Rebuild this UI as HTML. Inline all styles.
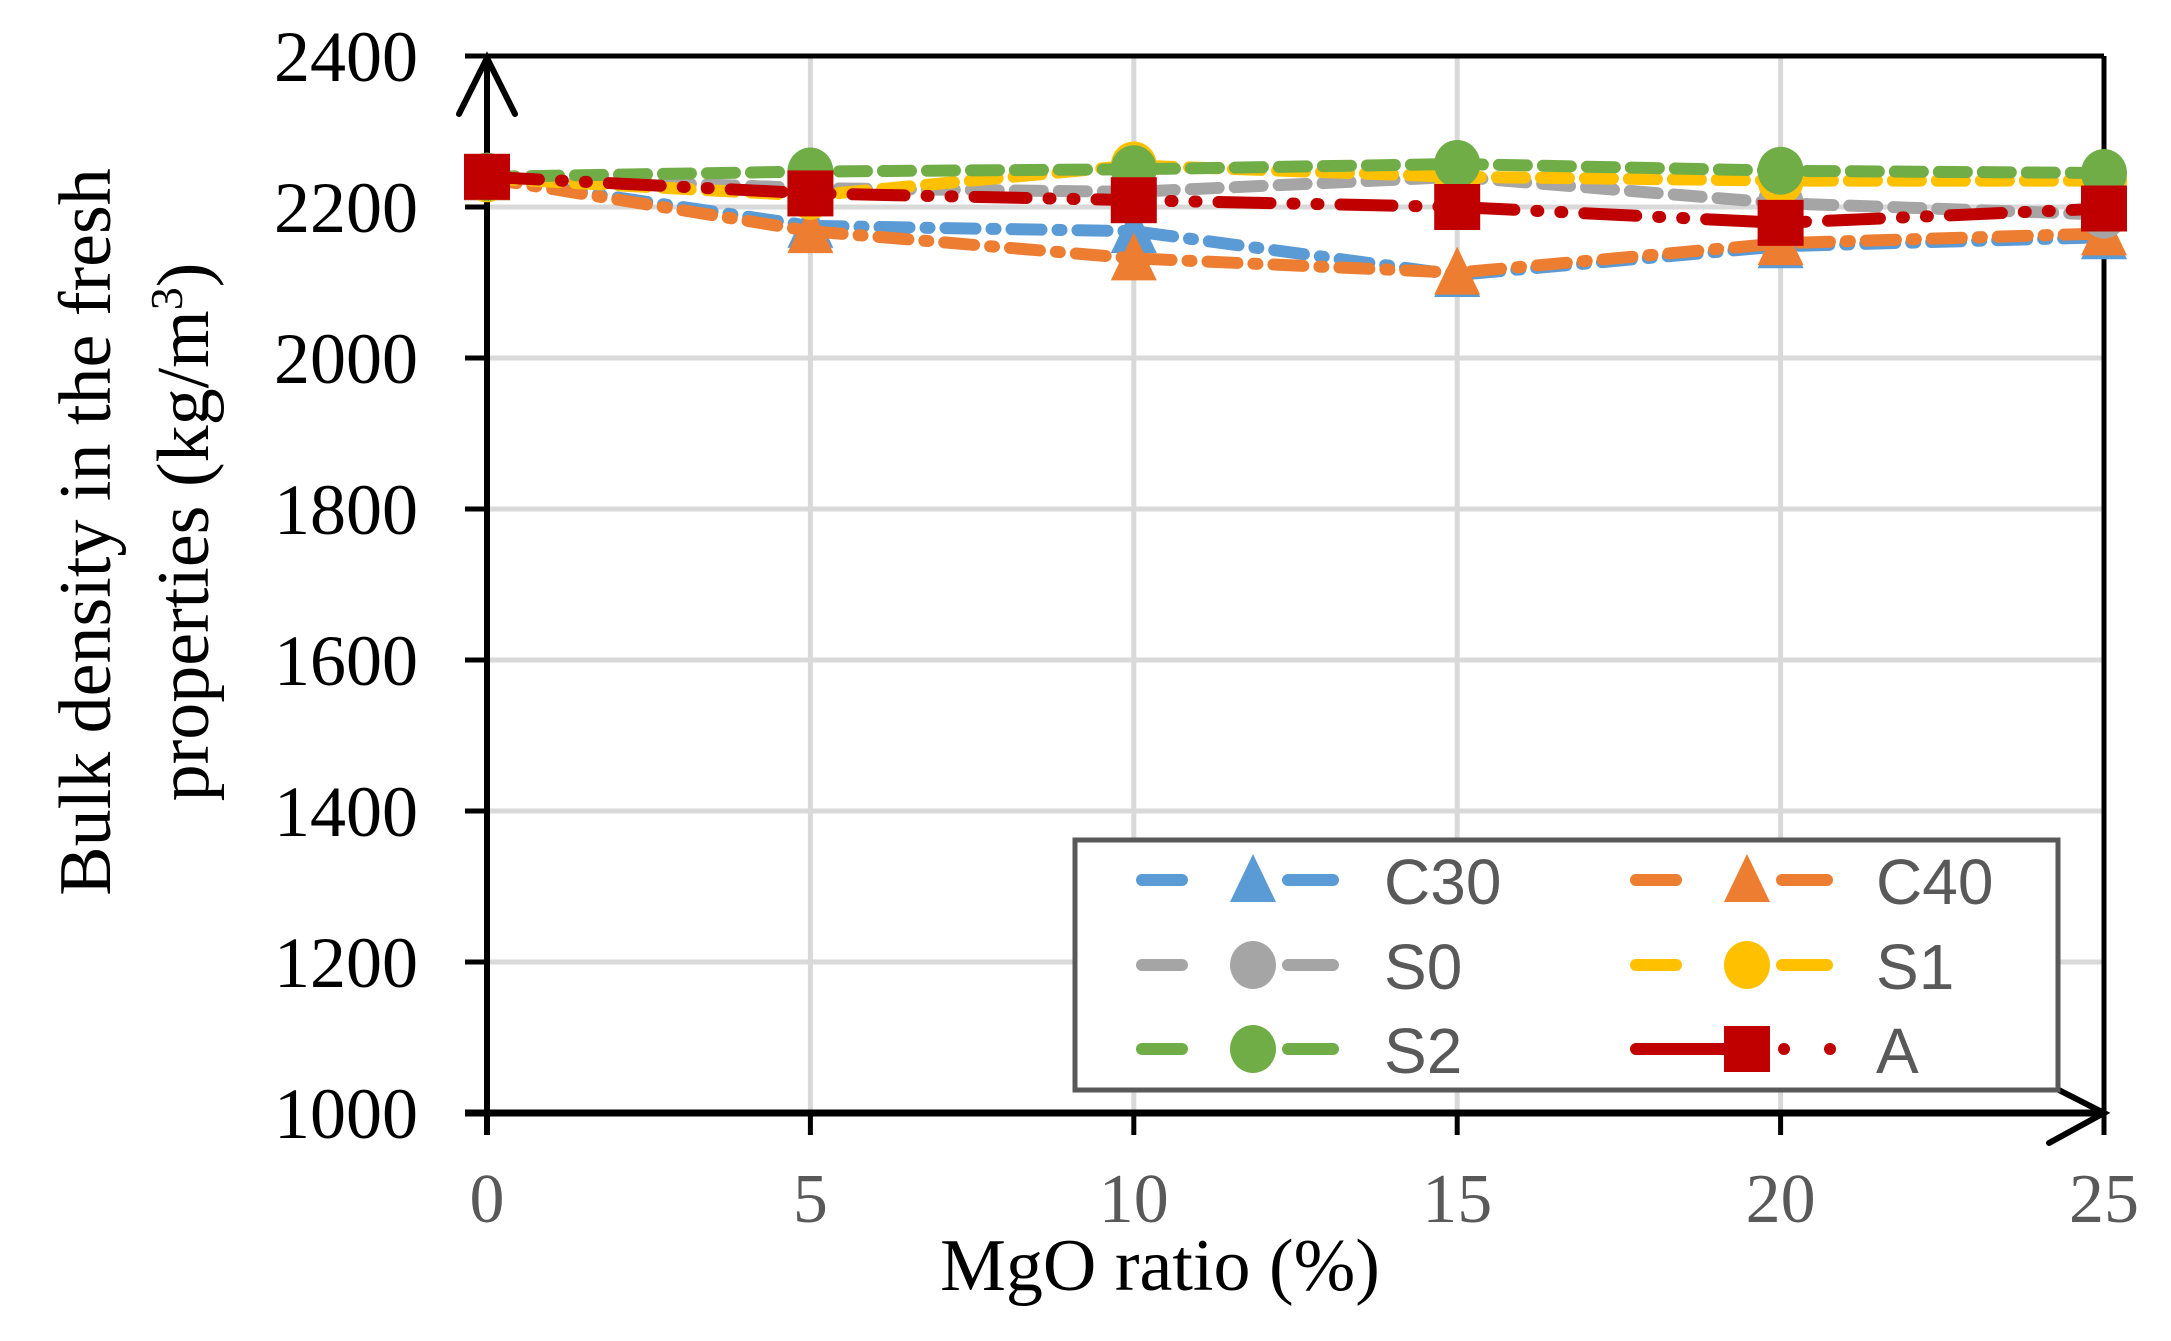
<!DOCTYPE html>
<html><head><meta charset="utf-8"><style>
html,body{margin:0;padding:0;background:#fff;}
svg{display:block;}
</style></head><body>
<svg id="chart" width="2171" height="1341" viewBox="0 0 2171 1341" xmlns="http://www.w3.org/2000/svg">
<g id="grid"></g>
<g id="axes"></g>
<g id="series"></g>
<g id="legend"></g>
<text x="1160" y="1290" text-anchor="middle" font-family="Liberation Serif, serif" font-size="74" fill="#000">MgO ratio (%)</text>
<text transform="translate(110,532) rotate(-90)" text-anchor="middle" font-family="Liberation Serif, serif" font-size="74" fill="#000">Bulk density in the fresh</text>
<text transform="translate(208,532) rotate(-90)" text-anchor="middle" font-family="Liberation Serif, serif" font-size="74" fill="#000">properties (kg/m<tspan font-size="46" dy="-26">3</tspan><tspan dy="26">)</tspan></text>
</svg>
<script>
const categories = [0, 5, 10, 15, 20, 25];
const seriesNames = ["C30", "C40", "S0", "S1", "S2", "A"];
const C30 = [2238, 2175, 2168, 2110, 2148, 2160];
const C40 = [2238, 2168, 2132, 2113, 2152, 2165];
const S0 = [2240, 2225, 2220, 2240, 2205, 2190];
const S1 = [2238, 2215, 2255, 2240, 2235, 2235];
const S2 = [2240, 2247, 2250, 2257, 2248, 2245];
const A = [2240, 2218, 2209, 2200, 2179, 2198];
const yTicks = [1000, 1200, 1400, 1600, 1800, 2000, 2200, 2400];
const xTicks = [0, 5, 10, 15, 20, 25];

const NS = "http://www.w3.org/2000/svg";
const X0 = 487, X1 = 2104, Y0 = 1113, Y1 = 56;
function xs(v){ return X0 + (v - 0) / 25 * (X1 - X0); }
function ys(v){ return Y0 - (v - 1000) / 1400 * (Y0 - Y1); }
function mk(tag, attrs, parent){ const e = document.createElementNS(NS, tag); for (const k in attrs) e.setAttribute(k, attrs[k]); parent.appendChild(e); return e; }

const grid = document.getElementById('grid');
const axes = document.getElementById('axes');
yTicks.forEach(t => {
  if (t === 1000 || t === 2400) return;
  const l = mk('line', {x1: X0, x2: X1, y1: ys(t), y2: ys(t), stroke: '#d9d9d9', 'stroke-width': 5}, grid);
  
  
});
xTicks.forEach(t => {
  if (t === 0 || t === 25) return;
  const l = mk('line', {x1: xs(t), x2: xs(t), y1: Y1, y2: Y0, stroke: '#d9d9d9', 'stroke-width': 5}, grid);
  
  
});
mk('line', {x1: X0 - 22, x2: X1, y1: Y1, y2: Y1, stroke: '#000', 'stroke-width': 5}, axes);
mk('line', {x1: X1, x2: X1, y1: Y1, y2: Y0 + 2, stroke: '#000', 'stroke-width': 5}, axes);
const ya = mk('line', {x1: X0, x2: X0, y1: Y1, y2: Y0 + 22, stroke: '#000', 'stroke-width': 6}, axes);


const xa = mk('line', {x1: X0 - 22, x2: X1, y1: Y0, y2: Y0, stroke: '#000', 'stroke-width': 7}, axes);


mk('polyline', {points: `${X0-28},${Y1+58} ${X0},${Y1+2} ${X0+28},${Y1+58}`, fill: 'none', stroke: '#000', 'stroke-width': 6, 'stroke-linecap': 'round'}, axes);
mk('polyline', {points: `${X1-55},${Y0-28} ${X1},${Y0} ${X1-55},${Y0+30}`, fill: 'none', stroke: '#000', 'stroke-width': 6, 'stroke-linecap': 'round'}, axes);
yTicks.forEach(t => {
  mk('line', {x1: X0 - 22, x2: X0, y1: ys(t), y2: ys(t), stroke: '#000', 'stroke-width': 5}, axes);
  const tx = mk('text', {x: 418, y: ys(t) + 25, 'text-anchor': 'end', 'font-family': 'Liberation Serif, serif', 'font-size': 72, fill: '#000'}, axes);
  tx.textContent = t;
  
  
});
xTicks.forEach(t => {
  mk('line', {x1: xs(t), x2: xs(t), y1: Y0, y2: Y0 + 22, stroke: '#000', 'stroke-width': 5}, axes);
  const tx = mk('text', {x: xs(t), y: 1222, 'text-anchor': 'middle', 'font-family': 'Liberation Serif, serif', 'font-size': 70, fill: '#595959'}, axes);
  tx.textContent = t;
  
  
});

const styles = {
  C30: {c: '#5b9bd5', dash: '30 16 4 16', m: 'tri'},
  C40: {c: '#ed7d31', dash: '30 16 4 16', m: 'tri'},
  S0: {c: '#a5a5a5', dash: '28 16', m: 'circ'},
  S1: {c: '#ffc000', dash: '28 16', m: 'circ'},
  S2: {c: '#70ad47', dash: '28 16', m: 'circ'},
  A: {c: '#c00000', dash: '52 22 2 22 2 22', m: 'sq'}
};
const dataMap = {C30, C40, S0, S1, S2, A};
function marker(type, cx, cy, color, parent){
  let e;
  if (type === 'tri') e = mk('polygon', {points: `${cx},${cy-26} ${cx+23},${cy+22} ${cx-23},${cy+22}`, fill: color}, parent);
  else if (type === 'circ') e = mk('ellipse', {cx: cx, cy: cy, rx: 23, ry: 24, fill: color}, parent);
  else e = mk('rect', {x: cx - 23, y: cy - 23, width: 46, height: 46, fill: color}, parent);
  return e;
}
const sg = document.getElementById('series');
seriesNames.forEach(name => {
  const st = styles[name], vals = dataMap[name];
  const g = mk('g', {}, sg);
  
  
  const pts = categories.map((c, i) => xs(c) + ',' + ys(vals[i])).join(' ');
  mk('polyline', {points: pts, fill: 'none', stroke: st.c, 'stroke-width': 12, 'stroke-dasharray': st.dash, 'stroke-linecap': 'round'}, g);
  categories.forEach((c, i) => {
    const m = marker(st.m, xs(c), ys(vals[i]), st.c, g);
    
    
  });
});

const lg = document.getElementById('legend');
mk('rect', {x: 1075, y: 840, width: 983, height: 250, fill: '#fff', stroke: '#595959', 'stroke-width': 5}, lg);
const rows = [880, 965, 1049];
const cols = [{lx: 1142, mx: 1253, tx: 1384}, {lx: 1636, mx: 1747, tx: 1876}];
seriesNames.forEach((name, i) => {
  const st = styles[name];
  const r = rows[Math.floor(i / 2)], c = cols[i % 2];
  const g = mk('g', {}, lg);
  
  
  if (name === 'A') {
    mk('line', {x1: c.lx, x2: c.mx, y1: r, y2: r, stroke: st.c, 'stroke-width': 12, 'stroke-linecap': 'round'}, g);
    mk('circle', {cx: c.mx + 37, cy: r, r: 6, fill: st.c}, g);
    mk('circle', {cx: c.mx + 83, cy: r, r: 6, fill: st.c}, g);
  } else {
    mk('line', {x1: c.lx, x2: c.lx + 40, y1: r, y2: r, stroke: st.c, 'stroke-width': 12, 'stroke-linecap': 'round'}, g);
    mk('line', {x1: c.mx + 35, x2: c.mx + 80, y1: r, y2: r, stroke: st.c, 'stroke-width': 12, 'stroke-linecap': 'round'}, g);
  }
  marker(st.m, c.mx, r, st.c, g);
  const t = mk('text', {x: c.tx, y: r + 24, 'font-family': 'Liberation Sans Narrow, Liberation Sans, sans-serif', 'font-size': 64, fill: '#595959'}, g);
  t.textContent = name;
});
</script>
</body></html>
